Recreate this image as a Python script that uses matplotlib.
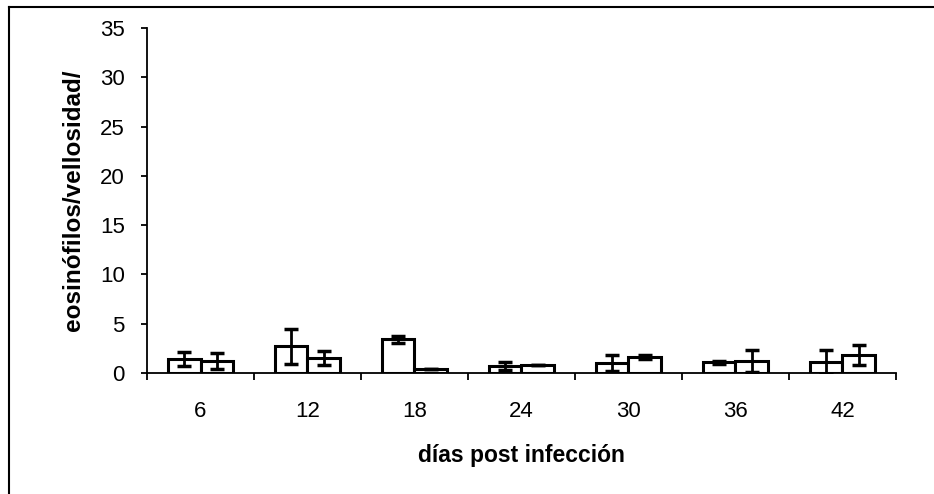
import matplotlib
matplotlib.use("Agg")
import matplotlib.pyplot as plt
from matplotlib.lines import Line2D
import numpy as np

plt.rcParams['font.family'] = ['Liberation Sans', 'DejaVu Sans']

days = ["6", "12", "18", "24", "30", "36", "42"]
serie1 = [1.4, 2.7, 3.4, 0.7, 1.0, 1.1, 1.1]
err1 = [0.7, 1.8, 0.4, 0.4, 0.8, 0.15, 1.2]
serie2 = [1.2, 1.5, 0.4, 0.8, 1.6, 1.2, 1.8]
err2 = [0.8, 0.7, 0.0, 0.0, 0.2, 1.1, 1.0]
yticks = [0, 5, 10, 15, 20, 25, 30, 35]

fig = plt.figure(figsize=(9.34, 4.94), dpi=100)
ax = fig.add_axes([147/934, 1-373/494, (896-147)/934, (373-28)/494])

x = np.arange(len(days)) + 0.5
w = 0.3
ax.bar(x - w/2, serie1, w, color='white', edgecolor='black', linewidth=2.2, zorder=2)
ax.bar(x + w/2, serie2, w, color='white', edgecolor='black', linewidth=2.2, zorder=2)
ax.errorbar(x - w/2, serie1, yerr=err1, fmt='none', ecolor='black', elinewidth=2,
            capsize=5, capthick=2.5, zorder=3)
ax.errorbar(x + w/2, serie2, yerr=err2, fmt='none', ecolor='black', elinewidth=2,
            capsize=5, capthick=2.5, zorder=3)

ax.set_xlim(0, len(days))
ax.set_ylim(0, 35)
ax.set_yticks(yticks)
ax.set_yticklabels([str(v) for v in yticks], fontsize=16)
ax.set_xticks(np.arange(len(days) + 1))
ax.set_xticklabels([])
ax.set_xticks(x, minor=True)
ax.set_xticklabels(days, minor=True, fontsize=16)
ax.tick_params(axis='x', which='major', length=5, width=1.3, direction='out')
ax.tick_params(axis='x', which='minor', length=0, pad=20)
ax.tick_params(axis='y', length=4, width=1.3, direction='out', pad=12)

for s in ['top', 'right']:
    ax.spines[s].set_visible(False)
for s in ['left', 'bottom']:
    ax.spines[s].set_linewidth(1.3)

ax.set_ylabel("eosinófilos/vellosidad/", fontsize=17.5, fontweight='bold', labelpad=11)
ax.set_xlabel("días post infección", fontsize=16.5, fontweight='bold', labelpad=16)

fig.add_artist(Line2D([9/934, 1], [1-7/494, 1-7/494], transform=fig.transFigure,
                      color='black', linewidth=1.5))
fig.add_artist(Line2D([9/934, 9/934], [0, 1-7/494], transform=fig.transFigure,
                      color='black', linewidth=1.5))

fig.savefig("out.png", dpi=100)
